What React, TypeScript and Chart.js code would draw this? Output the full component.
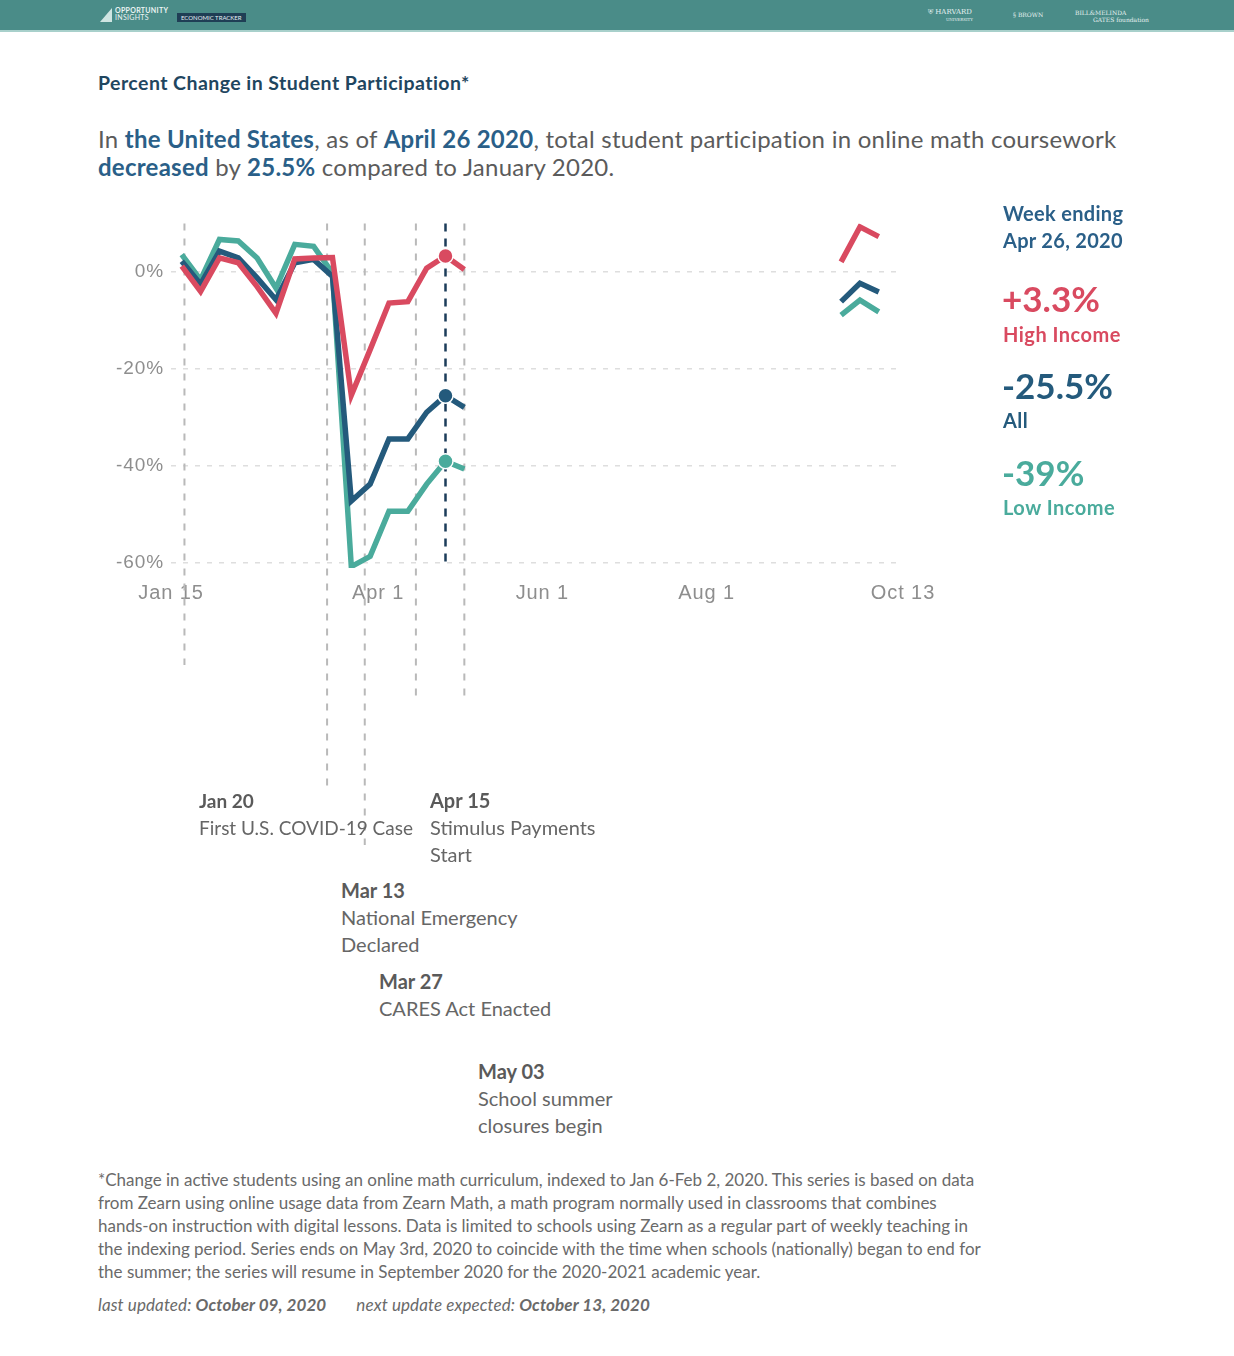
import React, { useEffect, useRef } from "react";
import { Chart, registerables } from "chart.js";

Chart.register(...registerables);

// ---------- data ----------
const axisStart = "2020-01-15";
const weekEnding = [
  "2020-01-19", "2020-01-26", "2020-02-02", "2020-02-09", "2020-02-16", "2020-02-23",
  "2020-03-01", "2020-03-08", "2020-03-15", "2020-03-22", "2020-03-29", "2020-04-05",
  "2020-04-12", "2020-04-19", "2020-04-26", "2020-05-03",
  "2020-05-10", // no data (summer break)
  "2020-09-20", "2020-09-27", "2020-10-04",
];
const highIncome = [1.2, -4, 2.9, 1.9, -3, -8.5, 2.7, 2.9, 3.0, -25.4, -16, -6.4, -6.1, 0.8, 3.3, 0.5, null, 2.1, 9.3, 7.3];
const allStudents = [2.2, -2.5, 4.3, 2.9, -1.2, -5.7, 1.9, 2.6, -0.9, -47.2, -43.7, -34.4, -34.4, -28.9, -25.5, -27.9, null, -6.1, -2.3, -4.1];
const lowIncome = [3.6, -1.6, 6.7, 6.4, 2.9, -3.3, 5.7, 5.3, -0.2, -60.7, -58.6, -49.3, -49.3, -43.7, -39, -40.6, null, -8.9, -5.8, -8.2];

const xTickDates = ["2020-01-15", "2020-04-01", "2020-06-01", "2020-08-01", "2020-10-13"];
const xTickLabels = ["Jan 15", "Apr 1", "Jun 1", "Aug 1", "Oct 13"];
const yTicks = [0, -20, -40, -60];
const eventDates = ["2020-01-20", "2020-03-13", "2020-03-27", "2020-04-15", "2020-05-03"];
const highlightDate = "2020-04-26";

// ---------- layout / style ----------
const CANVAS_TOP = 200;
const CANVAS_H = 660;
const EVENT_LINE_ENDS = [665, 786, 845, 697, 697]; // page y of each event line's end
const RED = "#d94a60";
const NAVY = "#245a7c";
const TEAL = "#4aab9c";
const TEXT_GRAY = "#666666";
const HEAD_BLUE = "#2a5f88";

function dayIndex(s: string): number {
  const [y, m, d] = s.split("-").map(Number);
  const [y0, m0, d0] = axisStart.split("-").map(Number);
  return (Date.UTC(y, m - 1, d) - Date.UTC(y0, m0 - 1, d0)) / 86400000;
}

const letterSpacingPlugin = {
  id: "letterSpacing",
  beforeDraw(chart: any) {
    try {
      chart.ctx.letterSpacing = "0.9px";
    } catch (e) {
      /* ignore */
    }
  },
};

const eventLinesPlugin = {
  id: "eventLines",
  beforeDatasetsDraw(chart: any) {
    const { ctx, chartArea, scales } = chart;
    const xs = scales.x;
    ctx.save();
    ctx.lineWidth = 2;
    ctx.strokeStyle = "#b9b9b9";
    ctx.setLineDash([7, 8]);
    eventDates.forEach((d, i) => {
      const px = xs.getPixelForValue(dayIndex(d));
      ctx.beginPath();
      ctx.moveTo(px, chartArea.top);
      ctx.lineTo(px, EVENT_LINE_ENDS[i] - CANVAS_TOP);
      ctx.stroke();
    });
    const hx = xs.getPixelForValue(dayIndex(highlightDate));
    ctx.strokeStyle = "#1c3d5a";
    ctx.lineWidth = 2.5;
    ctx.setLineDash([8, 7]);
    ctx.beginPath();
    ctx.moveTo(hx, chartArea.top);
    ctx.lineTo(hx, chartArea.bottom);
    ctx.stroke();
    ctx.restore();
  },
};

function makeDataset(label: string, values: (number | null)[], color: string, order: number) {
  const hi = dayIndex(highlightDate);
  return {
    label,
    data: weekEnding.map((w, i) => ({ x: dayIndex(w), y: values[i] })),
    borderColor: color,
    backgroundColor: color,
    pointBackgroundColor: color,
    pointBorderColor: "#ffffff",
    pointBorderWidth: 1.5,
    pointRadius: (c: any) => (c.raw && c.raw.x === hi ? 7.5 : 0),
    borderWidth: 5.5,
    borderJoinStyle: "miter" as const,
    tension: 0,
    spanGaps: false,
    order,
  };
}

function ChartCanvas() {
  const ref = useRef<HTMLCanvasElement | null>(null);
  useEffect(() => {
    if (!ref.current) return;
    const chart = new Chart(ref.current, {
      type: "line",
      data: {
        datasets: [
          makeDataset("High Income", highIncome, RED, 0),
          makeDataset("All", allStudents, NAVY, 1),
          makeDataset("Low Income", lowIncome, TEAL, 2),
        ] as any,
      },
      options: {
        animation: false,
        responsive: false,
        maintainAspectRatio: false,
        events: [],
        layout: { padding: { left: 0, top: 23.5, right: 331, bottom: CANVAS_H - 368 - 40 } },
        plugins: { legend: { display: false }, tooltip: { enabled: false } },
        scales: {
          x: {
            type: "linear",
            min: 0,
            max: dayIndex(xTickDates[xTickDates.length - 1]),
            grid: { display: false, drawTicks: false },
            border: { display: false },
            afterFit: (s: any) => {
              s.height = 40;
            },
            afterBuildTicks: (s: any) => {
              s.ticks = xTickDates.map((d) => ({ value: dayIndex(d) }));
            },
            ticks: {
              autoSkip: false,
              maxRotation: 0,
              padding: 13,
              color: "#8e8e8e",
              font: { family: "'Liberation Sans', Arial, sans-serif", size: 20 },
              callback: (_v: any, i: number) => xTickLabels[i],
            },
          },
          y: {
            type: "linear",
            min: -61,
            max: 10,
            afterFit: (s: any) => {
              s.width = 171;
            },
            afterBuildTicks: (s: any) => {
              s.ticks = yTicks.map((v) => ({ value: v }));
            },
            grid: { color: "#dedede", lineWidth: 1.5, drawTicks: false },
            border: { display: false, dash: [5, 7] },
            ticks: {
              padding: 7,
              color: "#8e8e8e",
              font: { family: "'Liberation Sans', Arial, sans-serif", size: 19 },
              callback: (v: any) => `${v}%`,
            },
          },
        },
      } as any,
      plugins: [letterSpacingPlugin, eventLinesPlugin],
    });
    return () => chart.destroy();
  }, []);
  return (
    <canvas
      ref={ref}
      width={1234}
      height={CANVAS_H}
      style={{ position: "absolute", left: 0, top: CANVAS_TOP, width: 1234, height: CANVAS_H }}
    />
  );
}

const abs = (left: number, top: number, extra: React.CSSProperties = {}): React.CSSProperties => ({
  position: "absolute",
  left,
  top,
  whiteSpace: "nowrap",
  ...extra,
});

function Annotation({ x, y, date, lines, size = 20 }: { x: number; y: number; date: string; lines: string[]; size?: number }) {
  return (
    <div style={abs(x, y - 13.5, { fontSize: size, lineHeight: "27px", color: TEXT_GRAY })}>
      <div style={{ fontWeight: 700, color: "#5a5a5a" }}>{date}</div>
      {lines.map((l, i) => (
        <div key={i}>{l}</div>
      ))}
    </div>
  );
}

export default function App() {
  const b = (t: string) => <span style={{ fontWeight: 700, color: HEAD_BLUE }}>{t}</span>;
  return (
    <div
      style={{
        position: "absolute",
        left: 0,
        top: 0,
        width: 1234,
        height: 1356,
        background: "#ffffff",
        overflow: "hidden",
        fontFamily: "Lato, 'Noto Sans', sans-serif",
      }}
    >
      {/* header bar */}
      <div style={{ position: "absolute", left: 0, top: 0, width: 1234, height: 30, background: "#4a8c88", borderBottom: "2px solid #a8d0cb" }} />
      <div style={abs(100, 8, { width: 12, height: 14, background: "#cfe5e2", clipPath: "polygon(100% 0, 100% 100%, 0 100%)" })} />
      <div style={abs(115, 7, { fontSize: 7, lineHeight: "7px", color: "#eaf4f3", fontWeight: 700, letterSpacing: 0.3 })}>
        OPPORTUNITY
        <br />
        <span style={{ fontWeight: 400 }}>INSIGHTS</span>
      </div>
      <div style={abs(177, 13, { fontSize: 6, lineHeight: "9px", color: "#e6eef3", background: "#1f3e55", padding: "0 4px" })}>ECONOMIC TRACKER</div>
      <div style={abs(928, 9, { fontSize: 7, lineHeight: "7px", color: "#e6f1f0", fontFamily: "'DejaVu Serif', serif" })}>
        ⛨ HARVARD
        <br />
        <span style={{ fontSize: 4, marginLeft: 18 }}>UNIVERSITY</span>
      </div>
      <div style={abs(1013, 6, { fontSize: 6, lineHeight: "18px", color: "#e6f1f0", fontFamily: "'DejaVu Serif', serif" })}>§ BROWN</div>
      <div style={abs(1075, 9, { fontSize: 6, lineHeight: "7px", color: "#e6f1f0", fontFamily: "'DejaVu Serif', serif" })}>
        BILL&amp;MELINDA
        <br />
        <span style={{ marginLeft: 18 }}>GATES foundation</span>
      </div>

      {/* title */}
      <div style={abs(98, 71, { fontSize: 19.5, lineHeight: "24px", fontWeight: 700, color: "#1f4660", letterSpacing: 0.45 })}>
        Percent Change in Student Participation*
      </div>
      <div style={abs(98, 125, { fontSize: 24, lineHeight: "28px", color: "#5b5b5b", letterSpacing: 0.25 })}>
        In {b("the United States")}, as of {b("April 26 2020")}, total student participation in online math coursework
        <br />
        {b("decreased")} by {b("25.5%")} compared to January 2020.
      </div>

      <ChartCanvas />

      {/* right side panel */}
      <div style={abs(1003, 199.5, { fontSize: 20, lineHeight: "27px", fontWeight: 700, color: HEAD_BLUE, letterSpacing: 0.3 })}>
        Week ending
        <br />
        Apr 26, 2020
      </div>
      <div style={abs(1002, 277, { fontSize: 35, lineHeight: "42px", fontWeight: 700, color: RED })}>+3.3%</div>
      <div style={abs(1003, 321, { fontSize: 20, lineHeight: "26px", fontWeight: 700, color: RED, letterSpacing: 0.5 })}>High Income</div>
      <div style={abs(1002, 364, { fontSize: 35, lineHeight: "42px", fontWeight: 700, color: NAVY })}>-25.5%</div>
      <div style={abs(1003, 407, { fontSize: 20, lineHeight: "26px", fontWeight: 700, color: NAVY, letterSpacing: 0.5 })}>All</div>
      <div style={abs(1002, 451, { fontSize: 35, lineHeight: "42px", fontWeight: 700, color: TEAL })}>-39%</div>
      <div style={abs(1003, 494, { fontSize: 20, lineHeight: "26px", fontWeight: 700, color: TEAL, letterSpacing: 0.5 })}>Low Income</div>

      {/* event annotations */}
      <Annotation x={199} y={800} date="Jan 20" lines={["First U.S. COVID-19 Case"]} size={19} />
      <Annotation x={430} y={800} date="Apr 15" lines={["Stimulus Payments", "Start"]} />
      <Annotation x={341} y={890} date="Mar 13" lines={["National Emergency", "Declared"]} />
      <Annotation x={379} y={981} date="Mar 27" lines={["CARES Act Enacted"]} />
      <Annotation x={478} y={1071} date="May 03" lines={["School summer", "closures begin"]} />

      {/* footnote */}
      <div style={abs(98, 1167.5, { fontSize: 17, lineHeight: "23px", color: "#6a6a6a" })}>
        *Change in active students using an online math curriculum, indexed to Jan 6-Feb 2, 2020. This series is based on data
        <br />
        from Zearn using online usage data from Zearn Math, a math program normally used in classrooms that combines
        <br />
        hands-on instruction with digital lessons. Data is limited to schools using Zearn as a regular part of weekly teaching in
        <br />
        the indexing period. Series ends on May 3rd, 2020 to coincide with the time when schools (nationally) began to end for
        <br />
        the summer; the series will resume in September 2020 for the 2020-2021 academic year.
      </div>
      <div style={abs(98, 1294, { fontSize: 17, lineHeight: "22px", color: "#6a6a6a", fontStyle: "italic", letterSpacing: 0.1 })}>
        last updated: <b>October 09, 2020</b>
        <span style={{ marginLeft: 30 }}>next update expected: </span>
        <b>October 13, 2020</b>
      </div>
    </div>
  );
}
